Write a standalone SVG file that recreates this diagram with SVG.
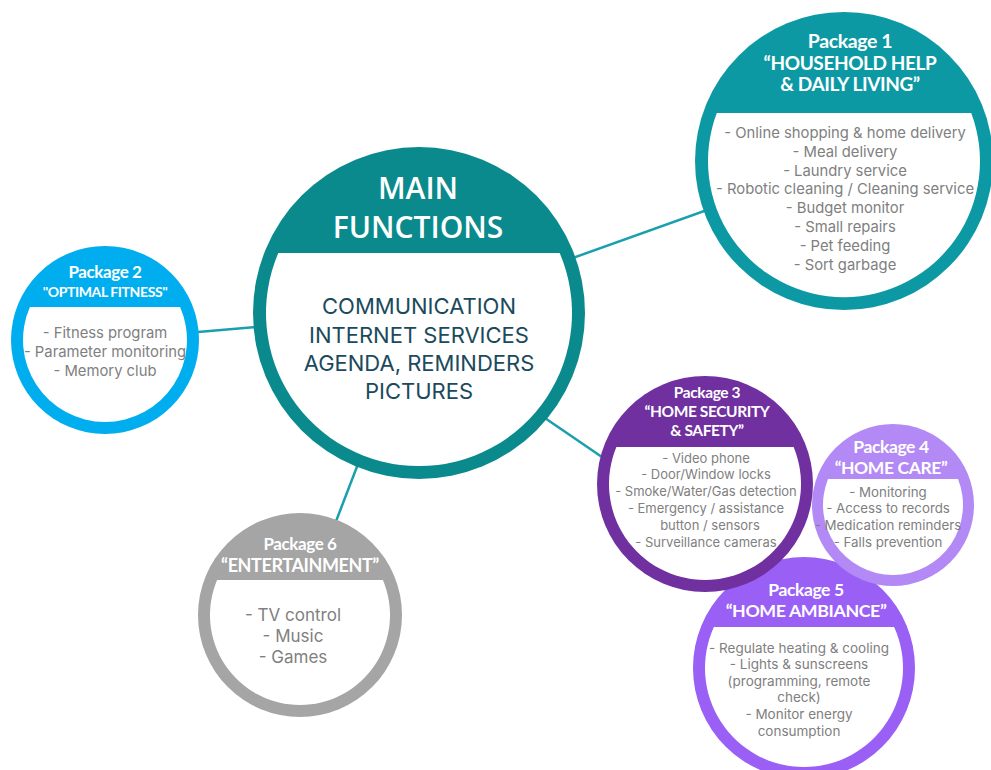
<svg xmlns="http://www.w3.org/2000/svg" width="991" height="770" viewBox="0 0 991 770">
  <style>
    .link { stroke: #1a9fae; stroke-width: 2.5; fill: none; }
    .hd { font-family: Lato, "Liberation Sans", sans-serif; font-weight: 700; fill: #ffffff; text-anchor: middle; letter-spacing: -0.4px; }
    .it { font-family: Inter, "Open Sans", "Liberation Sans", sans-serif; fill: #808080; text-anchor: middle; }
    .main-hd { font-family: "Open Sans", "Liberation Sans", sans-serif; font-weight: 600; font-size: 30px; fill: #ffffff; text-anchor: middle; }
    .main-it { font-family: Inter, "Open Sans", "Liberation Sans", sans-serif; font-size: 22px; fill: #1b4a5c; text-anchor: middle; }
    .inner { fill: #ffffff; }
  </style>

  <!-- connectors, drawn first so the circles cover their ends -->
  <g id="connectors">
    <line class="link" x1="419" y1="313" x2="844" y2="161"/>
    <line class="link" x1="419" y1="313" x2="105" y2="340"/>
    <line class="link" x1="416" y1="313" x2="300" y2="615"/>
    <line class="link" x1="520" y1="401" x2="640" y2="483"/>
  </g>

  <!-- central node -->
  <g id="main">
    <circle cx="419" cy="313" r="166" fill="#0a8a8c"/>
    <path class="inner" d="M278.3,253 A153,153 0 1 0 559.7,253 Z"/>
    <text class="main-hd" x="418" y="199">MAIN</text>
    <text class="main-hd" x="418" y="238">FUNCTIONS</text>
    <text class="main-it" x="419" y="314">COMMUNICATION</text>
    <text class="main-it" x="419" y="343">INTERNET SERVICES</text>
    <text class="main-it" x="419" y="371">AGENDA, REMINDERS</text>
    <text class="main-it" x="419" y="399">PICTURES</text>
  </g>

  <!-- Package 1 -->
  <g id="package1">
    <circle cx="844" cy="161" r="149" fill="#0d99a4"/>
    <path class="inner" d="M716.8,113 A136,136 0 1 0 971.2,113 Z"/>
    <text class="hd" x="850" y="48" font-size="19.5">Package 1</text>
    <text class="hd" x="850" y="70" font-size="19">“HOUSEHOLD HELP</text>
    <text class="hd" x="850" y="91" font-size="19">&amp; DAILY LIVING”</text>
    <g class="it" font-size="14.8">
      <text x="845" y="138">- Online shopping &amp; home delivery</text>
      <text x="845" y="157">- Meal delivery</text>
      <text x="845" y="176">- Laundry service</text>
      <text x="845" y="194">- Robotic cleaning / Cleaning service</text>
      <text x="845" y="213">- Budget monitor</text>
      <text x="845" y="232">- Small repairs</text>
      <text x="845" y="251">- Pet feeding</text>
      <text x="845" y="270">- Sort garbage</text>
    </g>
  </g>

  <!-- Package 2 -->
  <g id="package2">
    <circle cx="105" cy="340" r="94" fill="#00aeef"/>
    <path class="inner" d="M29.9,307 A82,82 0 1 0 180.1,307 Z"/>
    <text class="hd" x="105" y="278" font-size="17">Package 2</text>
    <text class="hd" x="105" y="297" font-size="14">"OPTIMAL FITNESS"</text>
    <g class="it" font-size="14.8">
      <text x="105" y="338">- Fitness program</text>
      <text x="105" y="357">- Parameter monitoring</text>
      <text x="105" y="376">- Memory club</text>
    </g>
  </g>

  <!-- Package 6 -->
  <g id="package6">
    <circle cx="300" cy="615" r="102" fill="#a5a5a5"/>
    <path class="inner" d="M217.1,580 A90,90 0 1 0 382.9,580 Z"/>
    <text class="hd" x="300" y="550" font-size="17">Package 6</text>
    <text class="hd" x="300" y="572" font-size="18">“ENTERTAINMENT”</text>
    <g class="it" font-size="17">
      <text x="293" y="621">- TV control</text>
      <text x="293" y="642">- Music</text>
      <text x="293" y="663">- Games</text>
    </g>
  </g>

  <!-- Package 5 (lies under packages 3 and 4) -->
  <g id="package5">
    <circle cx="804" cy="668" r="111" fill="#9a5ff5"/>
    <path class="inner" d="M713.9,627 A99,99 0 1 0 894.1,627 Z"/>
    <text class="hd" x="806" y="596" font-size="17.5">Package 5</text>
    <text class="hd" x="806" y="617" font-size="17.8">“HOME AMBIANCE”</text>
    <g class="it" font-size="13.5">
      <text x="799" y="653">- Regulate heating &amp; cooling</text>
      <text x="799" y="669">- Lights &amp; sunscreens</text>
      <text x="799" y="686">(programming, remote</text>
      <text x="799" y="702">check)</text>
      <text x="799" y="719">- Monitor energy</text>
      <text x="799" y="736">consumption</text>
    </g>
  </g>

  <!-- Package 3 -->
  <g id="package3">
    <circle cx="705" cy="484" r="108" fill="#7030a0"/>
    <path class="inner" d="M616.4,447 A96,96 0 1 0 793.6,447 Z"/>
    <text class="hd" x="707" y="398" font-size="15.5">Package 3</text>
    <text class="hd" x="707" y="417" font-size="15.5">“HOME SECURITY</text>
    <text class="hd" x="707" y="436" font-size="15.5">&amp; SAFETY”</text>
    <g class="it" font-size="13">
      <text x="706" y="463">- Video phone</text>
      <text x="706" y="479">- Door/Window locks</text>
      <text x="706" y="496">- Smoke/Water/Gas detection</text>
      <text x="706" y="513">- Emergency / assistance</text>
      <text x="710" y="530">button / sensors</text>
      <text x="706" y="547">- Surveillance cameras</text>
    </g>
  </g>

  <!-- Package 4 -->
  <g id="package4">
    <circle cx="893" cy="505" r="81" fill="#b38af5"/>
    <path class="inner" d="M828,479 A70,70 0 1 0 958,479 Z"/>
    <text class="hd" x="891" y="453" font-size="17.5">Package 4</text>
    <text class="hd" x="891" y="474" font-size="17.5">“HOME CARE”</text>
    <g class="it" font-size="13.3">
      <text x="888" y="497">- Monitoring</text>
      <text x="888" y="513">- Access to records</text>
      <text x="888" y="530">- Medication reminders</text>
      <text x="888" y="547">- Falls prevention</text>
    </g>
  </g>
</svg>
